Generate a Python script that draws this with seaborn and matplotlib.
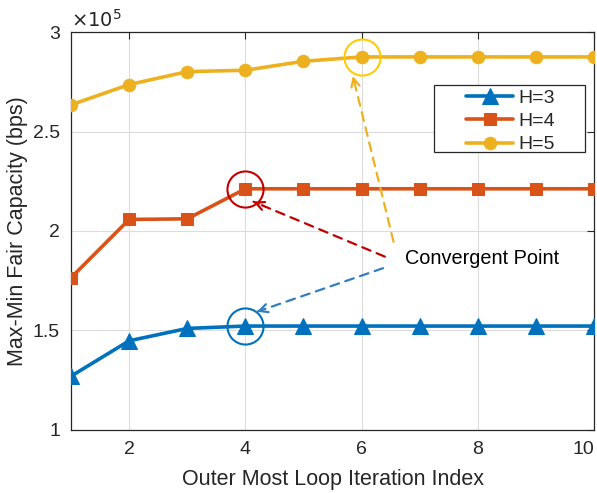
import numpy as np
import pandas as pd
import matplotlib
matplotlib.use("Agg")
import matplotlib.pyplot as plt
from matplotlib.ticker import FuncFormatter, MultipleLocator
from matplotlib.patches import Rectangle
import seaborn as sns

# Outer-loop iteration index and max-min fair capacity (bps) per H
iterations = [1, 2, 3, 4, 5, 6, 7, 8, 9, 10]
cap_h3 = [1.270e5, 1.448e5, 1.510e5, 1.522e5, 1.522e5, 1.522e5, 1.522e5, 1.522e5, 1.522e5, 1.522e5]
cap_h4 = [1.765e5, 2.058e5, 2.061e5, 2.212e5, 2.212e5, 2.212e5, 2.212e5, 2.212e5, 2.212e5, 2.212e5]
cap_h5 = [2.634e5, 2.736e5, 2.801e5, 2.808e5, 2.853e5, 2.875e5, 2.875e5, 2.875e5, 2.875e5, 2.875e5]
series_names = ["H=3", "H=4", "H=5"]
converge_idx = [4, 4, 6]
x_ticks = [2, 4, 6, 8, 10]

sns.set_theme(style="white")
plt.rcParams["font.family"] = ["Liberation Sans", "DejaVu Sans"]

colors = {"H=3": "#0072BD", "H=4": "#D95319", "H=5": "#EDB120"}
markers = {"H=3": "^", "H=4": "s", "H=5": "o"}
msizes = {"H=3": 11, "H=4": 8.5, "H=5": 9}

df = pd.DataFrame({
    "iter": iterations * 3,
    "cap": cap_h3 + cap_h4 + cap_h5,
    "H": [n for n in series_names for _ in iterations],
})

TICK_FS = 14
LABEL_FS = 15.5
TEXT_FS = 14.3
LEGEND_FS = 14
INK = "#262626"

fig = plt.figure(figsize=(5.97, 4.93), dpi=100)
ax = fig.add_axes([0.119, 0.128, 0.876, 0.807])

for name in series_names:
    sub = df[df["H"] == name]
    sns.lineplot(data=sub, x="iter", y="cap", ax=ax, color=colors[name],
                 marker=markers[name], markersize=msizes[name],
                 markeredgecolor=colors[name], linewidth=2.6,
                 label=name, zorder=3)

ax.set_xlim(1, 10)
ax.set_ylim(1e5, 3e5)
ax.set_xticks(x_ticks)
ax.set_xticklabels([str(t) for t in x_ticks])
ax.yaxis.set_major_locator(MultipleLocator(0.5e5))
ax.yaxis.set_major_formatter(FuncFormatter(lambda v, p: f"{v / 1e5:g}"))
ax.grid(True, color="#dcdcdc", linewidth=0.8)
ax.set_axisbelow(True)
for sp in ax.spines.values():
    sp.set_color(INK)
    sp.set_linewidth(0.9)
ax.tick_params(direction="in", length=5, width=0.8, colors=INK,
               labelsize=TICK_FS, top=True, right=True)
ax.tick_params(axis="x", pad=8)
ax.tick_params(axis="y", pad=8)
ax.set_xlabel("Outer Most Loop Iteration Index", fontsize=LABEL_FS, color=INK, labelpad=8)
ax.set_ylabel("Max-Min Fair Capacity (bps)", fontsize=LABEL_FS, color=INK)
ax.yaxis.set_label_coords(-0.082, 0.5)

# keep the rightmost x tick label inside the figure
ax.get_xticklabels()[-1].set_horizontalalignment("right")

ax.text(0.0, 1.004, r"$\times10^5$", transform=ax.transAxes, fontsize=TICK_FS,
        color=INK, ha="left", va="bottom")

# Circles around the convergence points
circle_colors = ["#0072BD", "#C00000", "#FFCC00"]
circle_vals = [cap_h3[3], cap_h4[3], cap_h5[5]]
for xi, yv, cc in zip(converge_idx, circle_vals, circle_colors):
    ax.plot([xi], [yv], marker="o", markersize=26, markerfacecolor="none",
            markeredgecolor=cc, markeredgewidth=1.5, zorder=4)

# Dashed arrows from the text to each convergence point
arrows = [
    ((6.40, 1.871e5), (4.14, 2.147e5), "#C00000"),
    ((6.37, 1.813e5), (4.20, 1.594e5), "#2F7FC1"),
    ((6.55, 1.946e5), (5.85, 2.779e5), "#EDB120"),
]
for (x0, y0), (x1, y1), c in arrows:
    ax.annotate("", xy=(x1, y1), xytext=(x0, y0),
                arrowprops=dict(arrowstyle="-", linestyle=(0, (4, 3)), color=c,
                                linewidth=1.6, shrinkA=0, shrinkB=0), zorder=5)
    # solid arrow head at the tip
    ax.annotate("", xy=(x1, y1), xytext=(x1 + (x0 - x1) * 0.04, y1 + (y0 - y1) * 0.04),
                arrowprops=dict(arrowstyle="->,head_length=0.5,head_width=0.25", color=c,
                                linewidth=1.6, shrinkA=0, shrinkB=0), zorder=5)

ax.text(6.74, 1.86e5, "Convergent Point", fontsize=TEXT_FS, color="black",
        ha="left", va="center", zorder=6)

# Legend: entries centred inside a wider rectangular frame
frame = Rectangle((0.694, 0.698), 0.289, 0.168, transform=ax.transAxes,
                  facecolor="white", edgecolor=INK, linewidth=0.9, zorder=7)
ax.add_patch(frame)
leg = ax.legend(loc="center", bbox_to_anchor=(0.840, 0.776), fontsize=LEGEND_FS,
                frameon=False, handlelength=2.45, borderpad=0.0, labelspacing=0.3,
                handletextpad=0.25, borderaxespad=0)
leg.set_zorder(8)

fig.savefig("out.png", dpi=100)
